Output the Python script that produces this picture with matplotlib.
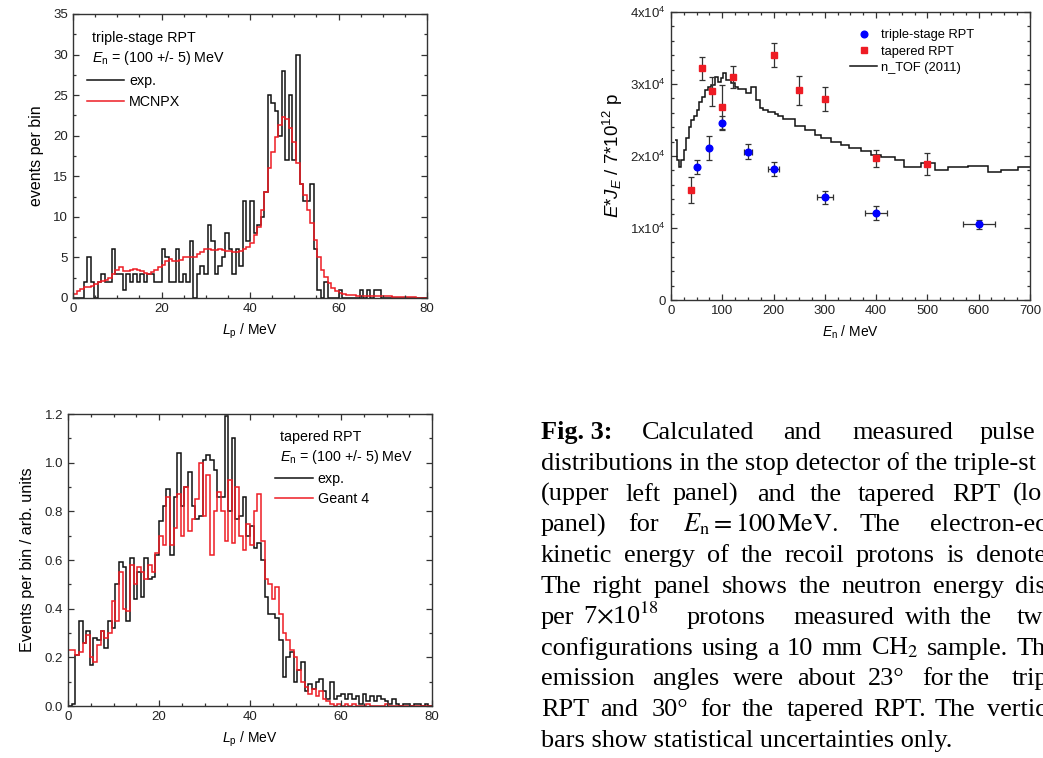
import matplotlib
matplotlib.use('Agg')
import matplotlib.pyplot as plt
from matplotlib.lines import Line2D
from matplotlib.ticker import MultipleLocator, FuncFormatter
import numpy as np

plt.rcParams['font.family'] = ['Liberation Sans', 'DejaVu Sans']
plt.rcParams['mathtext.fontset'] = 'custom'
plt.rcParams['mathtext.rm'] = 'Liberation Sans'
plt.rcParams['mathtext.it'] = 'Liberation Sans:italic'
plt.rcParams['mathtext.bf'] = 'Liberation Sans:bold'

# ---- data -------------------------------------------------------------
# 0.8 MeV bins from 0 to 80 MeV
lp_edges = np.linspace(0, 80, 101)

# triple-stage RPT, measured counts per bin
ts_exp = [0, 0, 0, 2, 5, 2, 0, 2, 3, 2,
          2, 6, 3, 3, 1, 3, 2, 3, 2, 3,
          2, 3, 3, 2, 2, 6, 5, 2, 2, 6,
          2, 3, 2, 7, 0, 3, 4, 3, 9, 7,
          3, 4, 5, 8, 6, 3, 6, 4, 12, 7,
          12, 8, 9, 10, 13, 25, 24, 23, 20, 28,
          17, 25, 17, 30, 14, 12, 12, 14, 6, 1,
          0, 2, 0, 0, 0, 1, 0, 0, 0, 0,
          0, 1, 0, 1, 0, 1, 1, 0, 0, 0,
          0, 0, 0, 0, 0, 0, 0, 0, 0, 0]
# triple-stage RPT, MCNPX
ts_mcnpx = [0.5, 0.8, 1.1, 1.3, 1.4, 1.5, 1.7, 2.0, 2.1, 2.2,
            2.4, 2.9, 3.4, 3.8, 3.3, 3.3, 3.5, 3.6, 3.5, 3.3,
            3.1, 3.0, 3.2, 3.5, 3.8, 4.1, 4.5, 4.8, 4.6, 4.5,
            4.7, 5.0, 5.1, 5.0, 5.1, 5.4, 5.7, 6.0, 6.0, 5.9,
            5.9, 6.0, 5.9, 5.8, 5.8, 5.7, 5.7, 5.8, 6.0, 6.3,
            6.8, 7.8, 8.8, 10.8, 13.0, 16.0, 18.0, 19.8, 21.3, 22.3,
            22.0, 21.0, 19.2, 16.6, 14.0, 12.7, 10.8, 9.2, 7.1, 5.0,
            3.4, 2.6, 1.8, 1.2, 0.8, 0.6, 0.5, 0.4, 0.4, 0.35,
            0.3, 0.3, 0.3, 0.25, 0.25, 0.25, 0.2, 0.2, 0.2, 0.2,
            0.15, 0.15, 0.15, 0.1, 0.1, 0.1, 0.1, 0.05, 0.05, 0.05]

# tapered RPT, measured (arb. units)
tp_exp = [0, 0.01, 0.21, 0.35, 0.26, 0.31, 0.17, 0.28, 0.27, 0.31,
          0.24, 0.35, 0.32, 0.50, 0.59, 0.57, 0.35, 0.61, 0.44, 0.55,
          0.45, 0.61, 0.52, 0.53, 0.62, 0.76, 0.82, 0.89, 0.62, 0.86,
          1.04, 0.82, 0.90, 0.96, 0.82, 0.77, 0.78, 1.01, 1.03, 1.01,
          0.97, 0.86, 0.86, 1.19, 0.80, 1.10, 0.77, 0.78, 0.86, 0.70,
          0.74, 0.65, 0.67, 0.60, 0.45, 0.38, 0.38, 0.36, 0.27, 0.12,
          0.20, 0.22, 0.10, 0.15, 0.18, 0.06, 0.09, 0.07, 0.10, 0.11,
          0.06, 0.03, 0.10, 0.03, 0.04, 0.05, 0.03, 0.05, 0.03, 0.04,
          0.01, 0.05, 0.02, 0.04, 0.02, 0.04, 0.03, 0.02, 0.01, 0.03,
          0.01, 0, 0.01, 0.01, 0, 0.01, 0.01, 0, 0.01, 0]
# tapered RPT, Geant 4
tp_geant = [0.23, 0.23, 0.21, 0.22, 0.26, 0.29, 0.20, 0.18, 0.25, 0.31,
            0.28, 0.30, 0.43, 0.35, 0.55, 0.40, 0.39, 0.58, 0.50, 0.57,
            0.55, 0.52, 0.58, 0.55, 0.63, 0.70, 0.66, 0.86, 0.66, 0.73,
            0.87, 0.70, 0.90, 0.72, 0.77, 0.85, 1.00, 0.78, 0.95, 0.62,
            0.80, 0.88, 0.80, 0.68, 0.93, 0.67, 0.90, 0.70, 0.64, 0.75,
            0.66, 0.80, 0.87, 0.68, 0.52, 0.50, 0.44, 0.49, 0.38, 0.30,
            0.27, 0.23, 0.20, 0.15, 0.10, 0.08, 0.05, 0.07, 0.04, 0.06,
            0.03, 0.02, 0.01, 0, 0.01, 0, 0.01, 0, 0.01, 0,
            0, 0, 0.01, 0, 0, 0, 0, 0.01, 0, 0,
            0, 0, 0, 0, 0, 0, 0, 0, 0, 0]

# neutron energy distribution (E*J_E per 7e12 protons)
ts_en = [50, 75, 100, 150, 200, 300, 400, 600]
ts_val = [18.5e3, 21.1e3, 24.6e3, 20.6e3, 18.2e3, 14.3e3, 12.1e3, 10.5e3]
ts_yerr = [1.0e3, 1.7e3, 1.0e3, 1.0e3, 1.0e3, 0.9e3, 1.0e3, 0.6e3]
ts_xerr = [0, 0, 2, 8, 10, 16, 21, 31]

tp_en = [40, 60, 80, 100, 120, 200, 250, 300, 400, 500]
tp_val = [15.3e3, 32.2e3, 29.0e3, 26.8e3, 31.0e3, 34.0e3, 29.1e3, 27.9e3, 19.7e3, 18.9e3]
tp_yerr = [1.8e3, 1.6e3, 2.0e3, 3.0e3, 1.5e3, 1.7e3, 2.0e3, 1.7e3, 1.2e3, 1.5e3]

ntof_edges = [8, 12, 16, 20, 25, 30, 35, 40, 45, 50,
              55, 60, 66, 72, 78, 85, 92, 98, 101, 108,
              118, 124, 130, 147, 157, 166, 173, 179, 189, 202,
              208, 218, 241, 261, 280, 293, 312, 332, 348, 371,
              390, 410, 436, 455, 488, 514, 540, 579, 618, 644,
              676, 700]
ntof_val = [22.2, 19.5, 18.5, 19.5, 20.8, 22.5, 24.0, 25.0, 25.5, 26.4,
            27.5, 28.2, 29.2, 29.6, 29.9, 31.0, 30.3, 30.8, 31.5, 30.6,
            30.2, 29.6, 29.3, 28.7, 29.6, 27.8, 26.6, 26.4, 26.1, 25.9,
            25.5, 25.2, 24.1, 23.6, 22.9, 22.5, 22.0, 21.5, 21.1, 20.7,
            20.1, 19.9, 19.4, 18.5, 19.0, 18.1, 18.5, 18.6, 17.8, 18.1,
            18.5]
ntof_val = [v * 1e3 for v in ntof_val]

red = '#ee1c24'
blue = '#0000ff'
spine_c = '#333333'


def style(ax, xmaj, xmin, ymaj, ymin):
    ax.xaxis.set_major_locator(MultipleLocator(xmaj))
    ax.xaxis.set_minor_locator(MultipleLocator(xmin))
    ax.yaxis.set_major_locator(MultipleLocator(ymaj))
    ax.yaxis.set_minor_locator(MultipleLocator(ymin))
    ax.tick_params(which='both', direction='in', top=True, right=True,
                   labelsize=9.5, colors=spine_c, labelcolor='#222222')
    ax.tick_params(which='major', length=4, width=0.9)
    ax.tick_params(which='minor', length=2.5, width=0.9)
    for s in ax.spines.values():
        s.set_linewidth(1.0)
        s.set_color(spine_c)


fig = plt.figure(figsize=(10.43, 7.58), dpi=100)

# ---- upper left: triple-stage RPT --------------------------------------
ax1 = fig.add_axes([0.070, 0.6069, 0.3394, 0.3747])
ax1.stairs(ts_exp, lp_edges, color='#111111', lw=1.1, baseline=None, label='exp.')
ax1.stairs(ts_mcnpx, lp_edges, color=red, lw=1.1, baseline=None, label='MCNPX')
ax1.set_xlim(0, 80)
ax1.set_ylim(0, 35)
style(ax1, 20, 5, 5, 2.5)
ax1.set_xlabel(r'$L_\mathrm{p}$ / MeV', fontsize=10, labelpad=5)
ax1.set_ylabel('events per bin', fontsize=11.5, labelpad=7)
ax1.text(0.054, 0.915, 'triple-stage RPT', transform=ax1.transAxes,
         fontsize=10.3, va='center')
ax1.text(0.054, 0.845, r'$E_\mathrm{n}$ = (100 +/- 5) MeV', transform=ax1.transAxes,
         fontsize=10.3, va='center')
ax1.legend(loc='upper left', bbox_to_anchor=(0.04, 0.788), frameon=False,
           fontsize=10.3, handlelength=2.6, handletextpad=0.35,
           labelspacing=0.45, borderpad=0, borderaxespad=0)

# ---- right: neutron energy distribution -------------------------------
ax2 = fig.add_axes([0.6433, 0.6042, 0.3442, 0.380])
ax2.stairs(ntof_val, ntof_edges, color='#111111', lw=1.1, baseline=None, zorder=2)
ax2.errorbar(ts_en, ts_val, yerr=ts_yerr, xerr=ts_xerr, fmt='o', ms=4.8,
             color=blue, ecolor='#333333', elinewidth=0.9, capsize=2.5,
             capthick=0.9, zorder=3)
ax2.errorbar(tp_en, tp_val, yerr=tp_yerr, fmt='s', ms=4.3,
             color=red, ecolor='#333333', elinewidth=0.9, capsize=2.5,
             capthick=0.9, zorder=3)
ax2.set_xlim(0, 700)
ax2.set_ylim(0, 40000)
style(ax2, 100, 25, 10000, 2000)


def sci(v, pos):
    if v == 0:
        return '0'
    return r'$\mathregular{%dx10^{4}}$' % round(v / 1e4)


ax2.yaxis.set_major_formatter(FuncFormatter(sci))
ax2.set_xlabel(r'$E_\mathrm{n}$ / MeV', fontsize=10, labelpad=5)
ax2.set_ylabel(r'$E$*$J_E$ / 7*10$^{12}$ p', fontsize=13.5, labelpad=4)
handles = [Line2D([], [], ls='none', marker='o', ms=4.8, color=blue),
           Line2D([], [], ls='none', marker='s', ms=4.3, color=red),
           Line2D([], [], color='#111111', lw=1.1)]
ax2.legend(handles, ['triple-stage RPT', 'tapered RPT', 'n_TOF (2011)'],
           loc='upper left', bbox_to_anchor=(0.499, 0.94), frameon=False,
           fontsize=9.3, handlelength=2.1, handletextpad=0.3,
           labelspacing=0.33, borderpad=0, borderaxespad=0)

# ---- lower left: tapered RPT ------------------------------------------
ax3 = fig.add_axes([0.0652, 0.0686, 0.349, 0.3852])
ax3.stairs(tp_exp, lp_edges, color='#111111', lw=1.1, baseline=None, label='exp.')
ax3.stairs(tp_geant, lp_edges, color=red, lw=1.1, baseline=None, label='Geant 4')
ax3.set_xlim(0, 80)
ax3.set_ylim(0, 1.2)
style(ax3, 20, 5, 0.2, 0.1)
ax3.yaxis.set_major_formatter(FuncFormatter(lambda v, p: '%.1f' % v))
ax3.set_xlabel(r'$L_\mathrm{p}$ / MeV', fontsize=10, labelpad=5)
ax3.set_ylabel('Events per bin / arb. units', fontsize=11.7, labelpad=7)
ax3.text(0.582, 0.92, 'tapered RPT', transform=ax3.transAxes,
         fontsize=10.3, va='center')
ax3.text(0.582, 0.852, r'$E_\mathrm{n}$ = (100 +/- 5) MeV', transform=ax3.transAxes,
         fontsize=10.3, va='center')
ax3.legend(loc='upper left', bbox_to_anchor=(0.57, 0.80), frameon=False,
           fontsize=10.3, handlelength=2.6, handletextpad=0.35,
           labelspacing=0.4, borderpad=0, borderaxespad=0)

# ---- caption (justified lines, clipped at the right edge) --------------
W, H = 1043.0, 758.0
cap_fs = 18.9
serif = ['Liberation Serif', 'DejaVu Serif']
base0, step = 439.0, 30.8


def word(x, line, s, bold=False):
    return fig.text(x / W, 1 - (base0 + line * step) / H, s, fontsize=cap_fs,
                    family=serif, weight='bold' if bold else 'normal',
                    va='baseline', ha='left', math_fontfamily='stix')


def justify(line, words, right, left=541):
    rend = fig.canvas.get_renderer()
    texts = [word(left, line, s) for s in words]
    widths = [t.get_window_extent(rend).width for t in texts]
    gap = (right - left - sum(widths)) / (len(words) - 1)
    x = left
    for t, w in zip(texts, widths):
        t.set_x(x / W)
        x += w + gap


word(541, 0, 'Fig. 3:', bold=True)
for x, s in [(642, 'Calculated'), (783, 'and'), (852, 'measured'), (980, 'pulse')]:
    word(x, 0, s)
word(541, 1, 'distributions in the stop detector of the triple-st')
for x, s in [(541, '(upper'), (625, 'left'), (673, 'panel)'), (757, 'and'),
             (810, 'the'), (858, 'tapered'), (952, 'RPT'), (1013, '(lo')]:
    word(x, 2, s)
for x, s in [(541, 'panel)'), (628, 'for'), (683, r'$E_\mathrm{n} = 100\,\mathrm{MeV.}$'),
             (860, 'The'), (930, 'electron-ec')]:
    word(x, 3, s)
justify(4, ['kinetic', 'energy', 'of', 'the', 'recoil', 'protons', 'is', 'denote'], 1046)
justify(5, ['The', 'right', 'panel', 'shows', 'the', 'neutron', 'energy', 'dis'], 1046)
for x, s in [(541, 'per'), (583, r'7$\times$10$^{18}$'), (687, 'protons'),
             (793, 'measured'), (905, 'with'), (960, 'the'), (1017, 'tw')]:
    word(x, 6, s)
justify(7, ['configurations', 'using', 'a', '10', 'mm', r'CH$_2$', 'sample.', 'Th'], 1046)
for x, s in [(541, 'emission'), (652, 'angles'), (733, 'were'), (797, 'about'),
             (868, '23°'), (922, 'for'), (958, 'the'), (1012, 'trip')]:
    word(x, 8, s)
for x, s in [(541, 'RPT'), (600, 'and'), (652, '30°'), (700, 'for'), (742, 'the'),
             (787, 'tapered'), (873, 'RPT.'), (935, 'The'), (987, 'vertic')]:
    word(x, 9, s)
word(541, 10, 'bars show statistical uncertainties only.')

fig.savefig('out.png', dpi=100)
